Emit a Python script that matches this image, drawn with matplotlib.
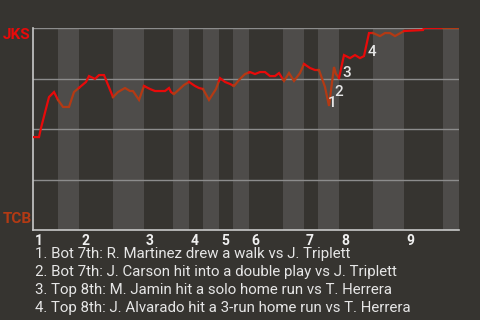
import numpy as np
import matplotlib
matplotlib.use('Agg')
import matplotlib.pyplot as plt

plt.rcParams['font.family'] = ['Roboto', 'DejaVu Sans']

# half-inning boundaries (play index)
bounds = [0, 5, 9.2, 16, 22.2, 28, 31.2, 34, 37.2, 40, 43.2, 50, 54.2, 57, 61.2, 68, 74.2, 82, 85.2]
innings = ['1', '2', '3', '4', '5', '6', '7', '8', '9']

# JKS win probability (%) by play
wp_x = [0, 1.2, 1.6, 3.2, 4.2, 5, 6, 7.2, 8.2, 9.4, 10.6, 11.2, 12.4, 13.2, 14.2, 16, 17, 18.4,
        19.4, 20, 21.2, 22.2, 23.4, 24.4, 25.4, 26.4, 27.2, 27.6, 28.2, 30.2, 31.2, 32.4, 33.2,
        34, 35.2, 36.6, 37.4, 38.4, 39.4, 40.2, 41.4, 42.4, 43.4, 44.4, 45.4, 46.4, 47.4, 48.4,
        49.2, 50.2, 51.2, 52.2, 53.4, 54.2, 55.4, 56.4, 57.2, 58.4, 59.2, 60.2, 60.6, 61.2, 62.2,
        63.4, 64.4, 65.4, 66.2, 67.2, 68, 69.4, 70.4, 71.4, 72.4, 74.2, 78, 78.2, 82, 85.2]
wp_y = [46, 46, 50.5, 65.8, 68.3, 64.4, 60.9, 60.9, 68.3, 70.8, 73.3, 76.2, 74.8, 76.7, 76.7,
        65.8, 68.3, 70.3, 68.8, 68.8, 64.4, 71.3, 69.8, 68.8, 68.8, 68.8, 70.3, 68.3, 67.3, 71.8,
        73.3, 71.3, 70.3, 69.8, 64.4, 69.8, 75.2, 73.3, 72.3, 71.3, 74.8, 77.2, 78.2, 77.2, 78.2,
        78.2, 76.2, 76.2, 77.7, 73.8, 77.7, 73.8, 77.7, 82.2, 80.2, 79.2, 79.2, 70.8, 61.4, 80.7,
        77.2, 75.2, 86.6, 85.1, 86.6, 85.1, 86.1, 97.5, 97.5, 96.0, 97.5, 97.5, 96.0, 98.5, 99.0,
        100, 100, 100]

events_x = [59.2, 60.6, 62.2, 67.2]
events = ['1. Bot 7th: R. Martinez drew a walk vs J. Triplett',
          '2. Bot 7th: J. Carson hit into a double play vs J. Triplett',
          '3. Top 8th: M. Jamin hit a solo home run vs T. Herrera',
          '4. Top 8th: J. Alvarado hit a 3-run home run vs T. Herrera']

bg = '#363430'
band = '#4e4c4a'
red = '#e80a0a'
brown = '#b33a14'

fig = plt.figure(figsize=(4.8, 3.2), dpi=100, facecolor=bg)
ax = fig.add_axes([33/480, 90/320, 426/480, 202/320])
ax.set_facecolor(bg)
ax.set_xlim(bounds[0], bounds[-1])
ax.set_ylim(0, 100)

# shade bottom halves
for i in range(1, len(bounds) - 1, 2):
    ax.axvspan(bounds[i], bounds[i + 1], color=band, lw=0, zorder=0)

for yv in [25, 50, 75, 100]:
    ax.axhline(yv, color='#8c8c8c', lw=1, zorder=1)

# line coloured by half inning
xs = np.array(wp_x)
ys = np.array(wp_y)
for i in range(len(bounds) - 1):
    a, b = bounds[i], bounds[i + 1]
    m = (xs > a) & (xs < b)
    sx = np.concatenate([[a], xs[m], [b]])
    sy = np.concatenate([[np.interp(a, xs, ys)], ys[m], [np.interp(b, xs, ys)]])
    ax.plot(sx, sy, color=red if i % 2 == 0 else brown, lw=1.6, zorder=3,
            solid_joinstyle='miter')

offs = [(2, 2), (2, -13), (2, -13), (2, -14)]
for k, ex in enumerate(events_x):
    ax.annotate(str(k + 1), (ex, np.interp(ex, xs, ys)), textcoords='offset points',
                xytext=offs[k], ha='center', va='center', color='#e6e6e6',
                fontsize=11, fontweight='medium', zorder=4)

for s in ['top', 'right']:
    ax.spines[s].set_visible(False)
for s in ['left', 'bottom']:
    ax.spines[s].set_color('#c8c8c8')
    ax.spines[s].set_linewidth(1.2)
ax.set_xticks([])
ax.set_yticks([])

for i, lab in enumerate(innings):
    ax.annotate(lab, (bounds[2 * i], 0), textcoords='offset points', xytext=(1.5, -3),
                ha='left', va='top', color='#f0f0f0', fontsize=10, fontweight='bold',
                annotation_clip=False)

fig.text(3/480, 1 - 35/320, 'JKS', color=red, fontsize=11, fontweight='bold', va='center')
fig.text(3/480, 1 - 219/320, 'TCB', color=brown, fontsize=11, fontweight='bold', va='center')

for k, t in enumerate(events):
    fig.text(35/480, 1 - (258 + 18 * k)/320, t, color='#e6e6e6', fontsize=10.8,
             va='baseline', ha='left')

fig.savefig('out.png', dpi=100, facecolor=bg)
